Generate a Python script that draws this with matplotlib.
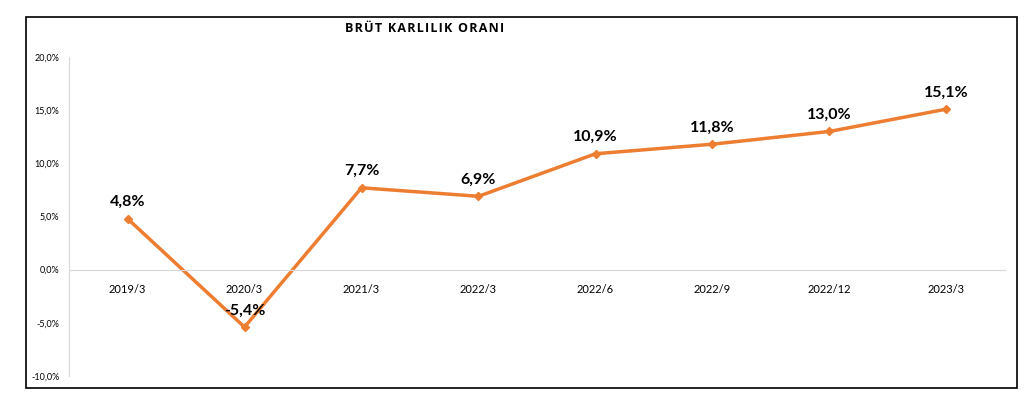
import matplotlib
matplotlib.use("Agg")
import matplotlib.pyplot as plt
from matplotlib.patches import Rectangle
from matplotlib.ticker import FuncFormatter

categories = ["2019/3", "2020/3", "2021/3", "2022/3", "2022/6", "2022/9", "2022/12", "2023/3"]
values = [4.8, -5.4, 7.7, 6.9, 10.9, 11.8, 13.0, 15.1]
yticks = [-10, -5, 0, 5, 10, 15, 20]
title = "BRÜT KARLILIK ORANI"

plt.rcParams['font.family'] = ['Lato', 'DejaVu Sans']

fig = plt.figure(figsize=(10.31, 4.04), dpi=100)
fig.patches.append(Rectangle((26/1031, 16/404), 991/1031, 371/404, transform=fig.transFigure,
                             fill=False, edgecolor='black', linewidth=1.2))

ax = fig.add_axes([69/1031, 28/404, 936/1031, 319/404])
x = list(range(len(categories)))
ax.plot(x, values, color='#ED7D31', linewidth=2.5, marker='D', markersize=4)
ax.set_xlim(-0.5, len(categories) - 0.5)
ax.set_ylim(-10, 20)
ax.set_yticks(yticks)
ax.yaxis.set_major_formatter(FuncFormatter(lambda v, p: f"{v:.1f}%".replace('.', ',')))
ax.tick_params(axis='y', length=0, labelsize=6.5, pad=7)
ax.set_xticks(x)
ax.set_xticklabels(categories)
ax.tick_params(axis='x', length=0, labelsize=8, pad=10)
for lbl in ax.get_xticklabels():
    lbl.set_family(['Open Sans', 'DejaVu Sans'])
    lbl.set_fontsize(7.5)
for s in ['top', 'right']:
    ax.spines[s].set_visible(False)
ax.spines['left'].set_color('#D9D9D9')
ax.spines['bottom'].set_color('#D9D9D9')
ax.spines['bottom'].set_position(('data', 0))

for xi, v in zip(x, values):
    ax.annotate(f"{v:.1f}%".replace('.', ','), (xi, v), xytext=(0, 12), textcoords='offset points',
                ha='center', va='center', fontsize=11.5, fontweight='bold', color='black')

spaced_title = "\u200a".join(title)
fig.text(425/1031, 1 - 29/404, spaced_title, ha='center', va='center', fontsize=9, fontweight='bold',
         family=['Open Sans', 'DejaVu Sans'])

fig.savefig("out.png", dpi=100)
